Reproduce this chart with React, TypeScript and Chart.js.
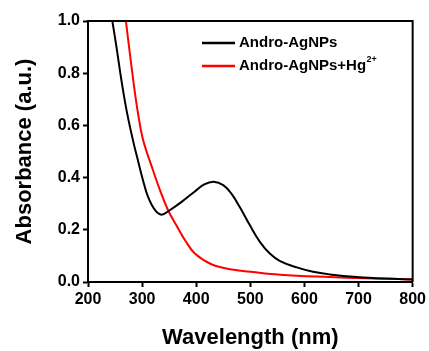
import React, { useEffect, useRef } from "react";
import { Chart, registerables } from "chart.js";

Chart.register(...registerables);

const blackWavelength = [245, 253, 262, 272, 284, 293, 301, 311, 324, 336, 351, 373, 398, 415, 432, 450, 466, 481, 499, 518, 536, 555, 586, 616, 647, 697, 750, 800];
const blackAbsorbance = [1.0, 0.895, 0.77, 0.65, 0.535, 0.46, 0.395, 0.326, 0.275, 0.258, 0.275, 0.307, 0.348, 0.374, 0.384, 0.371, 0.336, 0.285, 0.218, 0.153, 0.109, 0.08, 0.056, 0.039, 0.029, 0.019, 0.013, 0.01];

const redWavelength = [270, 284, 293, 302, 318, 333, 348, 364, 380, 398, 429, 466, 505, 555, 647, 727, 800];
const redAbsorbance = [1.0, 0.767, 0.639, 0.543, 0.441, 0.352, 0.275, 0.215, 0.158, 0.108, 0.067, 0.048, 0.038, 0.028, 0.019, 0.013, 0.011];

const seriesNames = ["Andro-AgNPs", "Andro-AgNPs+Hg"];
const seriesSup = ["", "2+"];
const seriesColors = ["#000000", "#ff0000"];

const xTitle = "Wavelength (nm)";
const yTitle = "Absorbance (a.u.)";

const FONT = "'Liberation Sans', Arial, sans-serif";

const boxAndLegend = {
  id: "boxAndLegend",
  afterDraw(chart: any) {
    const { ctx, chartArea } = chart;
    ctx.save();
    ctx.strokeStyle = "#000";
    ctx.lineWidth = 2;
    ctx.beginPath();
    ctx.moveTo(chartArea.left, chartArea.top);
    ctx.lineTo(chartArea.right, chartArea.top);
    ctx.lineTo(chartArea.right, chartArea.bottom);
    ctx.stroke();

    const x0 = chartArea.left + 114;
    const y0 = chartArea.top + 22;
    const rowGap = 23;
    chart.data.datasets.forEach((ds: any, i: number) => {
      const y = y0 + i * rowGap;
      ctx.strokeStyle = ds.borderColor;
      ctx.lineWidth = 2.5;
      ctx.beginPath();
      ctx.moveTo(x0, y);
      ctx.lineTo(x0 + 33, y);
      ctx.stroke();
      ctx.fillStyle = "#000";
      ctx.textBaseline = "middle";
      ctx.textAlign = "left";
      ctx.font = `bold 15px ${FONT}`;
      const name = seriesNames[i];
      ctx.fillText(name, x0 + 37, y);
      if (seriesSup[i]) {
        const w = ctx.measureText(name).width;
        ctx.font = `bold 9px ${FONT}`;
        ctx.fillText(seriesSup[i], x0 + 37 + w + 0.5, y - 6);
      }
    });
    ctx.restore();
  },
};

export default function App() {
  const ref = useRef<HTMLCanvasElement>(null);
  useEffect(() => {
    if (!ref.current) return;
    const chart = new Chart(ref.current, {
      type: "line",
      data: {
        datasets: [
          {
            label: "Andro-AgNPs",
            data: blackWavelength.map((x, i) => ({ x, y: blackAbsorbance[i] })),
            borderColor: seriesColors[0],
            borderWidth: 2,
            pointRadius: 0,
            tension: 0.4,
            fill: false,
          },
          {
            label: "Andro-AgNPs+Hg²⁺",
            data: redWavelength.map((x, i) => ({ x, y: redAbsorbance[i] })),
            borderColor: seriesColors[1],
            borderWidth: 2,
            pointRadius: 0,
            tension: 0.4,
            fill: false,
          },
        ],
      },
      options: {
        responsive: false,
        animation: false,
        layout: { padding: { top: 21, right: 16, left: 0, bottom: 0 } },
        plugins: { legend: { display: false }, tooltip: { enabled: false } },
        scales: {
          x: {
            type: "linear",
            min: 200,
            max: 800,
            afterFit: (s: any) => { s.height = 69; },
            ticks: { stepSize: 100, color: "#000", padding: 3, font: { family: FONT, size: 16, weight: "bold" } },
            grid: { drawOnChartArea: false, drawTicks: true, tickLength: 5, tickColor: "#000", tickWidth: 2 },
            border: { display: true, color: "#000", width: 2 },
            title: { display: true, text: xTitle, color: "#000", padding: { top: 0, bottom: 0 }, font: { family: FONT, size: 22, weight: "bold" } },
          },
          y: {
            min: 0,
            max: 1,
            afterFit: (s: any) => { s.width = 88; },
            ticks: { stepSize: 0.2, color: "#000", padding: 3, callback: (v: any) => Number(v).toFixed(1), font: { family: FONT, size: 16, weight: "bold" } },
            grid: { drawOnChartArea: false, drawTicks: true, tickLength: 5, tickColor: "#000", tickWidth: 2 },
            border: { display: true, color: "#000", width: 2 },
            title: { display: true, text: yTitle, color: "#000", padding: { top: 12, bottom: 0 }, font: { family: FONT, size: 22, weight: "bold" } },
          },
        },
      },
      plugins: [boxAndLegend],
    });
    return () => chart.destroy();
  }, []);
  return (
    <div style={{ position: "absolute", left: 0, top: 0, width: 429, height: 351, background: "#fff" }}>
      <canvas ref={ref} width={429} height={351} style={{ width: 429, height: 351, display: "block" }} />
    </div>
  );
}
